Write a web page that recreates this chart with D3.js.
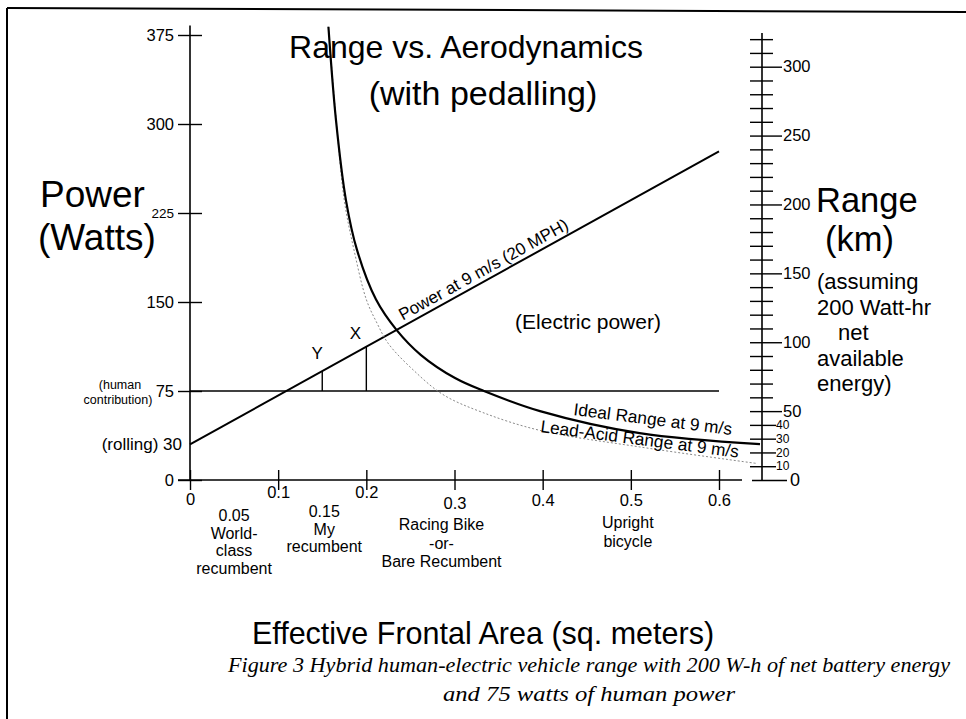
<!DOCTYPE html>
<html><head><meta charset="utf-8">
<script src="https://cdn.jsdelivr.net/npm/d3@7"></script>
<style>body{margin:0;background:#fff}svg{display:block}</style>
</head><body><svg id="c" width="966" height="719"></svg>
<script>
// ---------------- data ----------------
const powerTicks = [0, 75, 150, 225, 300, 375];
const areaTicks = [0, 0.1, 0.2, 0.3, 0.4, 0.5, 0.6];
const rangeTicks = [0,10,20,30,40,50,60,70,80,90,100,110,120,130,140,150,160,170,180,190,200,210,220,230,240,250,260,270,280,290,300,310,320];
const rangeMajorTicks = [50, 100, 150, 200, 250, 300];
const rangeSmallTicks = [10, 20, 30, 40];
const rollingPower = 30;
const humanPower = 75;
const powerLineArea = [0, 0.6];
const powerLineWatts = [30, 277];
const markerAreas = [0.15, 0.2];
const markerNames = ["Y", "X"];
const idealArea  = [0.157, 0.1656, 0.1769, 0.1894, 0.211, 0.2342, 0.262, 0.3006, 0.3334, 0.397, 0.510, 0.6465];
const idealRange = [329,   261,    203,    167,    131,   109,    90.7,  74,     64.6,   50,    34,    26];
const leadArea   = [0.157, 0.166, 0.175, 0.186, 0.200, 0.212, 0.225, 0.253, 0.287, 0.332, 0.397, 0.510, 0.643];
const leadRange  = [329,   260,   203,   167,   131,   114,   99,    80,    62,    49,    36,    24,    12];
const vehicleAreas = [0.05, 0.15, 0.3, 0.5];
const vehicleLabels = [["0.05","World-","class","recumbent"],["0.15","My","recumbent"],["Racing Bike","-or-","Bare Recumbent"],["Upright","bicycle"]];
const rangeNote = ["(assuming", "200 Watt-hr", "net", "available", "energy)"];

// ---------------- drawing ----------------
const F = "'Liberation Sans', Arial, Helvetica, sans-serif";
const SERIF = "'Liberation Serif', 'DejaVu Serif', serif";
const svg = d3.select("#c");

const x = d3.scaleLinear().domain([0, 0.6]).range([190, 719]);
const yP = d3.scaleLinear().domain([0, 375]).range([480, 35]);
const yR = d3.scaleLinear().domain([0, 300]).range([480, 66.7]);
const powerAt = d3.scaleLinear().domain(powerLineArea).range(powerLineWatts);
const RX = 762;

function txt(g, s, px, py, size, anchor, extra) {
  const t = g.append("text").attr("x", px).attr("y", py).attr("font-family", F)
    .attr("font-size", size).attr("text-anchor", anchor || "start").attr("fill", "#000").text(s);
  if (extra) extra(t);
  return t;
}

// frame
svg.append("line").attr("x1", 7).attr("y1", 8).attr("x2", 966).attr("y2", 12).attr("stroke", "#000").attr("stroke-width", 2);
svg.append("line").attr("x1", 7).attr("y1", 8).attr("x2", 7).attr("y2", 719).attr("stroke", "#000").attr("stroke-width", 2);

// left axis
const gL = svg.append("g").attr("transform", "translate(190,0)")
  .call(d3.axisLeft(yP).tickValues(powerTicks).tickSizeOuter(0));
gL.select(".domain").remove();
gL.selectAll(".tick line").attr("x1", -12).attr("x2", 12).attr("stroke", "#000").attr("stroke-width", 1.4);
gL.selectAll(".tick text").attr("font-family", F).attr("font-size", 16.5).attr("fill", "#000").attr("x", -16);
gL.selectAll(".tick text").filter(d => d === 225).attr("font-size", 13.5);
gL.append("line").attr("x1", 0).attr("x2", 0).attr("y1", yP(383)).attr("y2", yP(0)).attr("stroke", "#000").attr("stroke-width", 1.6);

txt(svg, "(rolling) " + rollingPower, 182, yP(rollingPower) + 6, 17, "end");
txt(svg, "(human", 120, yP(humanPower) - 2, 12.5, "middle");
txt(svg, "contribution)", 118, yP(humanPower) + 13, 12.5, "middle");

// x axis
const gX = svg.append("g").attr("transform", "translate(0,480)")
  .call(d3.axisBottom(x).tickValues(areaTicks).tickSizeOuter(0).tickFormat(d => d === 0 ? "0" : d3.format(".1f")(d)));
gX.select(".domain").remove();
gX.selectAll(".tick line").attr("y1", -10).attr("y2", 10).attr("stroke", "#000").attr("stroke-width", 1.4);
const xLabelDy = {0: 19, 0.1: 12, 0.2: 12, 0.3: 23, 0.4: 20, 0.5: 20, 0.6: 20};
gX.selectAll(".tick text").attr("font-family", F).attr("font-size", 16.5).attr("fill", "#000")
  .attr("y", d => xLabelDy[d]).attr("dy", "0.35em");
gX.append("line").attr("x1", 178).attr("x2", 742).attr("y1", 0).attr("y2", 0).attr("stroke", "#000").attr("stroke-width", 1.6);

// vehicle labels
const vehDx = [0, 2, -13, -3];
const vehY0 = [521, 517, 530, 528];
const vehGap = [17.5, 17.5, 18.5, 19];
vehicleLabels.forEach((lines, i) => {
  lines.forEach((s, j) => txt(svg, s, x(vehicleAreas[i]) + vehDx[i], vehY0[i] + j * vehGap[i], 16, "middle"));
});

// right axis
const gR = svg.append("g").attr("transform", `translate(${RX},0)`)
  .call(d3.axisRight(yR).tickValues(rangeTicks).tickFormat("").tickSizeOuter(0));
gR.select(".domain").remove();
gR.selectAll(".tick line").attr("x1", d => d === 0 ? -10 : -12)
  .attr("x2", d => d === 0 ? 25 : (d % 50 === 0 ? 20 : (d <= 40 ? 14 : 11)))
  .attr("stroke", "#000").attr("stroke-width", 1.4);
gR.append("line").attr("x1", 0).attr("x2", 0).attr("y1", 33).attr("y2", yR(0)).attr("stroke", "#000").attr("stroke-width", 1.6);
rangeMajorTicks.forEach(v => txt(svg, String(v), RX + 21, yR(v), 16.5, "start", t => t.attr("dy", "0.35em")));
rangeSmallTicks.forEach(v => txt(svg, String(v), RX + 14, yR(v), 12, "start", t => t.attr("dy", "0.35em")));
txt(svg, "0", RX + 28, yR(0), 18, "start", t => t.attr("dy", "0.35em"));

// human power line
svg.append("line").attr("x1", x(0)).attr("x2", x(0.6)).attr("y1", yP(humanPower)).attr("y2", yP(humanPower))
  .attr("stroke", "#000").attr("stroke-width", 1.4);

// power line
const pLine = d3.line().x(d => x(d[0])).y(d => yP(d[1]));
svg.append("path").attr("d", pLine(powerLineArea.map((a, i) => [a, powerLineWatts[i]])))
  .attr("fill", "none").attr("stroke", "#000").attr("stroke-width", 2);

// markers X / Y
const mkDx = [-5, -11], mkDy = [-18, -14];
markerAreas.forEach((a, i) => {
  svg.append("line").attr("x1", x(a)).attr("x2", x(a)).attr("y1", yP(humanPower)).attr("y2", yP(powerAt(a)))
    .attr("stroke", "#000").attr("stroke-width", 1.4);
  txt(svg, markerNames[i], x(a) + mkDx[i], yP(powerAt(a)) + mkDy[i] + 6, 17, "middle");
});

// range curves
const rLine = d3.line().x(d => x(d[0])).y(d => yR(d[1])).curve(d3.curveCatmullRom.alpha(0.5));
svg.append("path").attr("d", rLine(leadArea.map((a, i) => [a, leadRange[i]])))
  .attr("fill", "none").attr("stroke", "#888").attr("stroke-width", 1).attr("stroke-dasharray", "2,2");
svg.append("path").attr("d", rLine(idealArea.map((a, i) => [a, idealRange[i]])))
  .attr("fill", "none").attr("stroke", "#000").attr("stroke-width", 2.2);

// line labels
const ang = Math.atan2(yP(powerLineWatts[1]) - yP(powerLineWatts[0]), x(powerLineArea[1]) - x(powerLineArea[0])) * 180 / Math.PI;
svg.append("text").attr("transform", `translate(${x(0.24)},${yP(powerAt(0.24))}) rotate(${ang})`)
  .attr("x", 4).attr("y", -5).attr("font-family", F).attr("font-size", 17).text("Power at 9 m/s (20 MPH)");
svg.append("text").attr("transform", "translate(573,415) rotate(7.2)")
  .attr("font-family", F).attr("font-size", 17.3).text("Ideal Range at 9 m/s");
svg.append("text").attr("transform", "translate(540,432) rotate(7.4)")
  .attr("font-family", F).attr("font-size", 17.3).text("Lead-Acid Range at 9 m/s");
txt(svg, "(Electric power)", 588, 329, 21, "middle");

// titles
txt(svg, "Range vs. Aerodynamics", 466, 58, 32, "middle");
txt(svg, "(with pedalling)", 483, 105, 34, "middle");
txt(svg, "Power", 40, 207, 37, "start");
txt(svg, "(Watts)", 38, 250, 37, "start");
txt(svg, "Range", 816, 212, 34.5, "start");
txt(svg, "(km)", 825, 251, 34.5, "start");
rangeNote.forEach((s, i) => txt(svg, s, i === 2 ? 838 : 817, 289 + i * 25.5, 22, "start"));

txt(svg, "Effective Frontal Area (sq. meters)", 483, 644, 30.5, "middle");
txt(svg, "Figure 3  Hybrid human-electric vehicle range with 200 W-h of net battery energy", 589, 672, 21.5, "middle",
  t => t.attr("font-family", SERIF).attr("font-style", "italic").attr("textLength", 722).attr("lengthAdjust", "spacingAndGlyphs"));
txt(svg, "and 75 watts of human power", 589, 701, 22, "middle",
  t => t.attr("font-family", SERIF).attr("font-style", "italic").attr("textLength", 292).attr("lengthAdjust", "spacingAndGlyphs"));
</script>
</body></html>
